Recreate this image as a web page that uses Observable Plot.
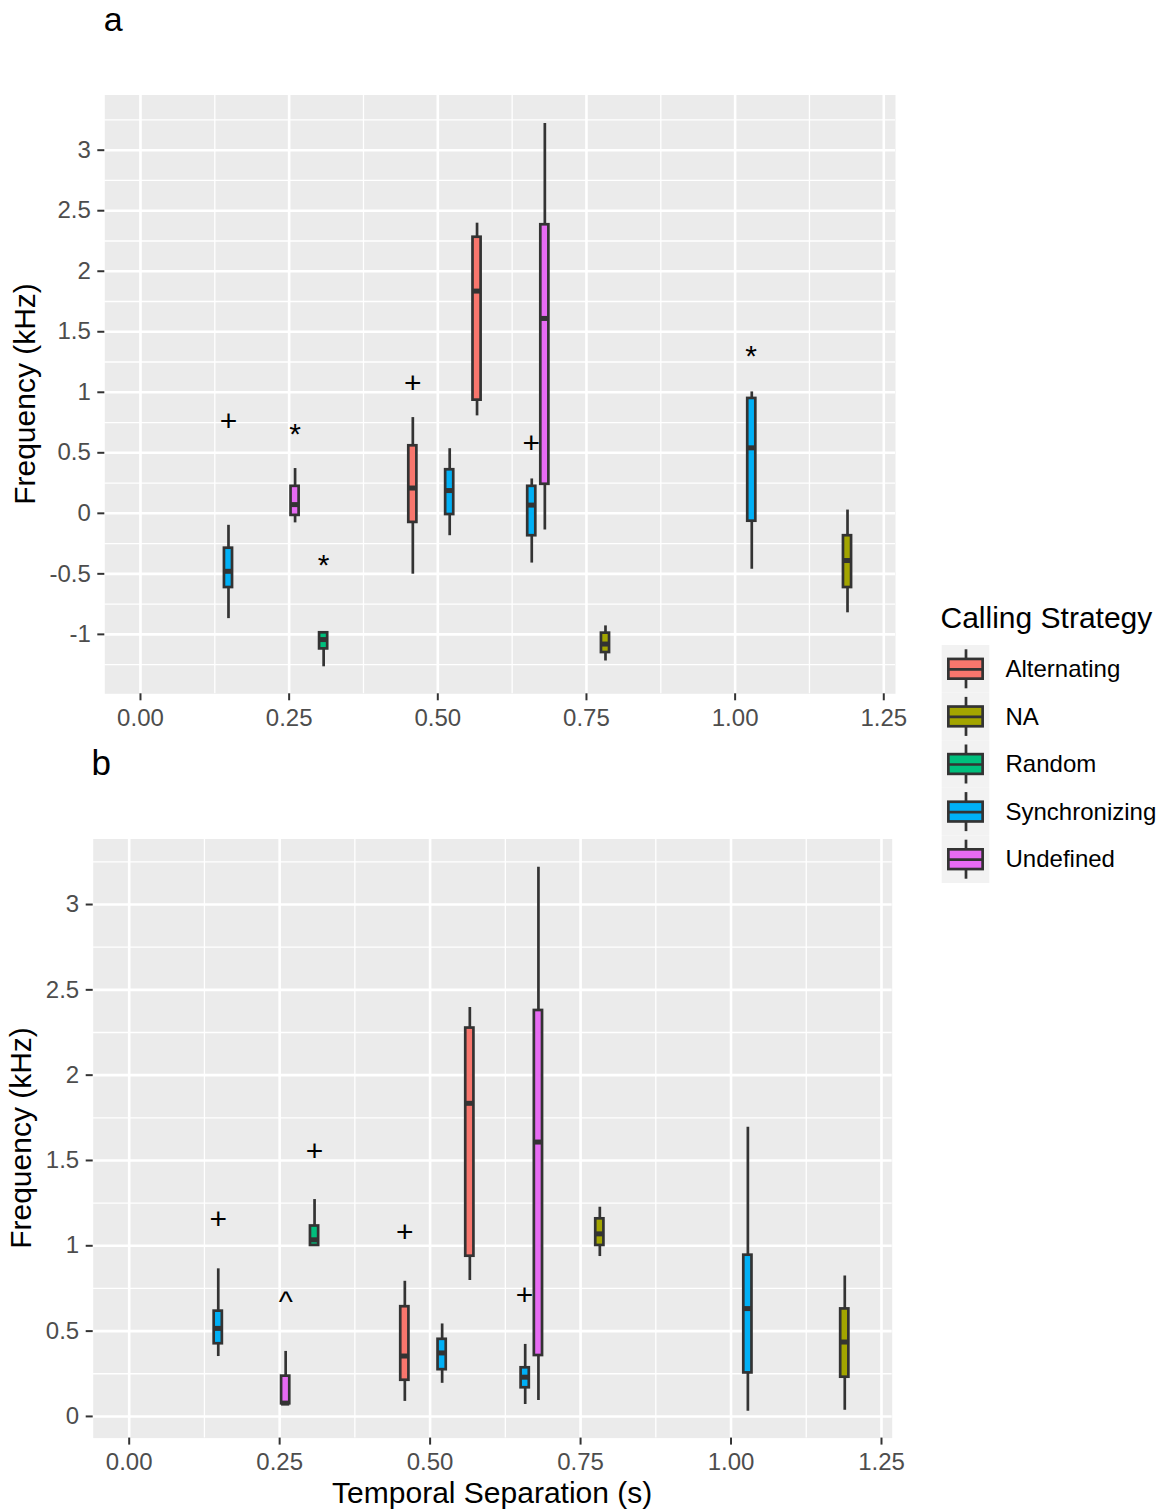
<!DOCTYPE html>
<html>
<head>
<meta charset="utf-8">
<script src="https://cdn.jsdelivr.net/npm/d3@7"></script>
<script src="https://cdn.jsdelivr.net/npm/@observablehq/plot@0.6"></script>
<style>
  body { margin: 0; background: #ffffff; }
  #root { position: relative; width: 1166px; height: 1512px; overflow: hidden; background: #ffffff; font-family: "Liberation Sans", Arial, sans-serif; }
  #root > * { position: absolute; }
</style>
</head>
<body>
<div id="root"></div>
<script>
// ---------- data ----------
const strategies = ["Alternating", "NA", "Random", "Synchronizing", "Undefined"];
const strategyColors = ["#F8766D", "#A3A500", "#00BF7D", "#00B0F6", "#E76BF3"];

const boxStrategy = ["Synchronizing", "Undefined", "Random", "Alternating", "Synchronizing", "Alternating", "Synchronizing", "Undefined", "NA", "Synchronizing", "NA"];
const boxSeparation = [0.148, 0.26, 0.308, 0.458, 0.52, 0.566, 0.658, 0.68, 0.782, 1.028, 1.189];

// panel a: whisker low, Q1, median, Q3, whisker high (kHz)
const aLow    = [-0.870, -0.079, -1.268, -0.503, -0.185, 0.805, -0.411, -0.137, -1.22, -0.462, -0.822];
const aQ1     = [-0.613, -0.017, -1.120, -0.075, -0.010, 0.935, -0.185,  0.240, -1.15, -0.065, -0.613];
const aMedian = [-0.479,  0.072, -1.043,  0.209,  0.188, 1.836,  0.068,  1.610, -1.08,  0.541, -0.390];
const aQ3     = [-0.288,  0.223, -0.987,  0.558,  0.360, 2.281,  0.223,  2.384, -0.99,  0.949, -0.185];
const aHigh   = [-0.099,  0.370, -0.987,  0.791,  0.534, 2.397,  0.284,  3.220, -0.93,  1.003,  0.027];

// panel b
const bLow    = [0.351, 0.074, 1.000, 0.088, 0.194, 0.797, 0.070, 0.094, 0.937, 0.031, 0.036];
const bQ1     = [0.426, 0.074, 1.002, 0.212, 0.274, 0.939, 0.168, 0.357, 1.002, 0.255, 0.230];
const bMedian = [0.516, 0.078, 1.035, 0.354, 0.372, 1.835, 0.230, 1.608, 1.070, 0.632, 0.436];
const bQ3     = [0.617, 0.236, 1.116, 0.643, 0.452, 2.276, 0.285, 2.379, 1.158, 0.945, 0.630];
const bHigh   = [0.865, 0.381, 1.271, 0.792, 0.542, 2.397, 0.422, 3.218, 1.226, 1.695, 0.823];

// significance symbols
const aSymbolSeparation = [0.148, 0.26, 0.308, 0.458, 0.657, 1.027];
const aSymbolFrequency  = [0.76, 0.65, -0.43, 1.075, 0.575, 1.30];
const aSymbolText       = ["+", "*", "*", "+", "+", "*"];

const bSymbolSeparation = [0.148, 0.26, 0.308, 0.458, 0.657];
const bSymbolFrequency  = [1.155, 0.67, 1.553, 1.08, 0.71];
const bSymbolText       = ["+", "^", "+", "+", "+"];

// axes
const xTicks = [0, 0.25, 0.5, 0.75, 1, 1.25];
const xMinor = [0.125, 0.375, 0.625, 0.875, 1.125];
const aYTicks = [-1, -0.5, 0, 0.5, 1, 1.5, 2, 2.5, 3];
const aYMinor = [-1.25, -0.75, -0.25, 0.25, 0.75, 1.25, 1.75, 2.25, 2.75, 3.25];
const bYTicks = [0, 0.5, 1, 1.5, 2, 2.5, 3];
const bYMinor = [0.25, 0.75, 1.25, 1.75, 2.25, 2.75, 3.25];

const xLabel = "Temporal Separation (s)";
const yLabel = "Frequency (kHz)";
const legendTitle = "Calling Strategy";

// ---------- drawing ----------
const FONT = "'Liberation Sans', Arial, Helvetica, sans-serif";
const DARK = "#333333";
const HW = 0.0068; // half box width in seconds

function panel(lo, q1, med, q3, hi, symX, symY, symT, cfg) {
  const boxes = boxSeparation.map((x, i) => ({
    x, strategy: boxStrategy[i], lo: lo[i], q1: q1[i], med: med[i], q3: q3[i], hi: hi[i]
  }));
  const syms = symX.map((x, i) => ({x, y: symY[i], t: symT[i]}));
  return Plot.plot({
    width: 920,
    height: cfg.height,
    marginLeft: cfg.left,
    marginRight: cfg.right,
    marginTop: cfg.top,
    marginBottom: cfg.bottom,
    style: {fontFamily: FONT, background: "transparent", overflow: "visible", color: "#000"},
    x: {domain: cfg.xDomain},
    y: {domain: cfg.yDomain},
    color: {domain: strategies, range: strategyColors},
    marks: [
      Plot.frame({fill: "#EBEBEB", stroke: "none"}),
      Plot.ruleX(xMinor, {stroke: "#ffffff", strokeWidth: 1.3}),
      Plot.ruleY(cfg.yMinor, {stroke: "#ffffff", strokeWidth: 1.3}),
      Plot.ruleX(xTicks, {stroke: "#ffffff", strokeWidth: 2.6}),
      Plot.ruleY(cfg.yTicks, {stroke: "#ffffff", strokeWidth: 2.6}),
      Plot.axisX({ticks: xTicks, tickFormat: d => d.toFixed(2), tickSize: 7, tickPadding: 8,
        fontSize: 24, fill: "#4D4D4D", stroke: DARK, strokeWidth: 2, label: null}),
      Plot.axisY({ticks: cfg.yTicks, tickFormat: d => String(d), tickSize: 7, tickPadding: 7,
        fontSize: 24, fill: "#4D4D4D", stroke: DARK, strokeWidth: 2, label: null}),
      Plot.ruleX(boxes, {x: "x", y1: "lo", y2: "hi", stroke: DARK, strokeWidth: 2.7}),
      Plot.rect(boxes, {x1: d => d.x - HW, x2: d => d.x + HW, y1: "q1", y2: "q3",
        fill: "strategy", stroke: DARK, strokeWidth: 2.7}),
      Plot.ruleY(boxes, {y: "med", x1: d => d.x - HW, x2: d => d.x + HW, stroke: DARK, strokeWidth: 5}),
      Plot.text(syms, {x: "x", y: "y", text: "t", fontSize: 30, fill: "#000"})
    ]
  });
}

const root = document.getElementById("root");

const plotA = panel(aLow, aQ1, aMedian, aQ3, aHigh, aSymbolSeparation, aSymbolFrequency, aSymbolText, {
  height: 745, left: 104.3, right: 25, top: 94.5, bottom: 51.7,
  xDomain: [-0.060, 1.2697], yDomain: [-1.491, 3.456], yTicks: aYTicks, yMinor: aYMinor
});
plotA.style.left = "0px"; plotA.style.top = "0px";
root.appendChild(plotA);

const plotB = panel(bLow, bQ1, bMedian, bQ3, bHigh, bSymbolSeparation, bSymbolFrequency, bSymbolText, {
  height: 767, left: 92.7, right: 28.3, top: 93.5, bottom: 74.4,
  xDomain: [-0.0598, 1.2678], yDomain: [-0.127, 3.384], yTicks: bYTicks, yMinor: bYMinor
});
plotB.style.left = "0px"; plotB.style.top = "745px";
root.appendChild(plotB);

// legend drawn with Plot
const legendRows = strategies.map((s, i) => ({strategy: s, i}));
const legend = Plot.plot({
  width: 236, height: 250,
  marginLeft: 0, marginRight: 0, marginTop: 0, marginBottom: 0,
  style: {fontFamily: FONT, background: "transparent", overflow: "visible", color: "#000"},
  x: {domain: [0, 1], range: [11.7, 59.3], axis: null},
  y: {domain: [-0.5, 4.5], range: [5, 243], axis: null},
  color: {domain: strategies, range: strategyColors},
  marks: [
    Plot.rect(legendRows, {x1: 0, x2: 1, y1: d => d.i - 0.5, y2: d => d.i + 0.5, fill: "#F2F2F2"}),
    Plot.ruleX(legendRows, {x: 0.5, y1: d => d.i - 0.41, y2: d => d.i + 0.41, stroke: DARK, strokeWidth: 2.7}),
    Plot.rect(legendRows, {x1: 0.14, x2: 0.86, y1: d => d.i - 0.207, y2: d => d.i + 0.207,
      fill: "strategy", stroke: DARK, strokeWidth: 2.7}),
    Plot.ruleY(legendRows, {y: "i", x1: 0.14, x2: 0.86, stroke: DARK, strokeWidth: 2.7}),
    Plot.text(legendRows, {x: 1, dx: 15.7, y: "i", text: "strategy", textAnchor: "start", fontSize: 24, fill: "#000"})
  ]
});
legend.style.left = "930px"; legend.style.top = "640px";
root.appendChild(legend);

// static titles
const overlay = d3.create("svg")
  .attr("width", 1166).attr("height", 1512)
  .style("left", "0px").style("top", "0px")
  .style("pointer-events", "none")
  .style("font-family", FONT);

overlay.append("text").attr("x", 103.8).attr("y", 31).attr("font-size", 34).attr("fill", "#000").text("a");
overlay.append("text").attr("x", 91.5).attr("y", 774.5).attr("font-size", 35).attr("fill", "#000").text("b");

overlay.append("text")
  .attr("transform", "translate(34.5,394) rotate(-90)")
  .attr("text-anchor", "middle").attr("font-size", 30).attr("fill", "#000").text(yLabel);
overlay.append("text")
  .attr("transform", "translate(31,1138) rotate(-90)")
  .attr("text-anchor", "middle").attr("font-size", 30).attr("fill", "#000").text(yLabel);

overlay.append("text").attr("x", 492.2).attr("y", 1503).attr("text-anchor", "middle")
  .attr("font-size", 30).attr("fill", "#000").text(xLabel);

overlay.append("text").attr("x", 940.5).attr("y", 627.5)
  .attr("font-size", 30).attr("fill", "#000").text(legendTitle);

root.appendChild(overlay.node());
</script>
</body>
</html>
